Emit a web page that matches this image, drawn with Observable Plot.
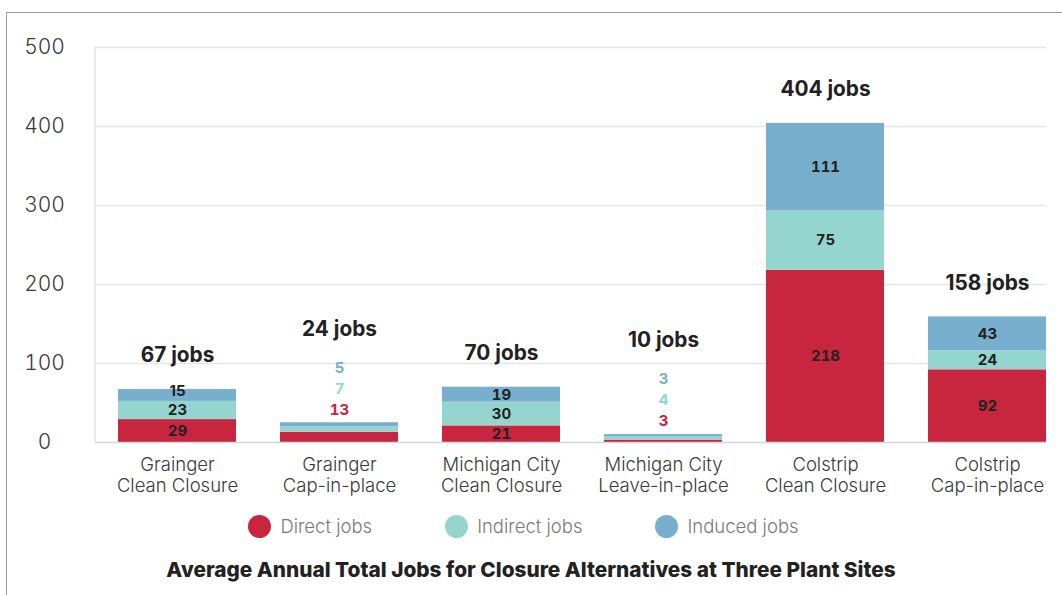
<!DOCTYPE html>
<html><head><meta charset="utf-8">
<script src="https://cdn.jsdelivr.net/npm/d3@7"></script>
<script src="https://cdn.jsdelivr.net/npm/@observablehq/plot@0.6"></script>
<style>
body{margin:0;background:#fff;font-family:Inter,Roboto,"Noto Sans",sans-serif;}
#wrap{position:relative;width:1062px;height:595px;overflow:hidden;}
#frame{position:absolute;left:6px;top:12px;width:1060px;height:600px;border-top:1.5px solid #9a9a9a;border-left:1.5px solid #9a9a9a;pointer-events:none;}
#chart svg{display:block}
#legend{display:flex;justify-content:center;align-items:center;gap:73px;margin-top:14px;height:24px;padding-right:15px;font-size:18.5px;font-weight:300;color:#7a7a7a;}
.item{display:flex;align-items:center;gap:9px}
.dot{width:23px;height:23px;border-radius:50%}
#title{text-align:center;font-weight:800;font-size:20.8px;line-height:22px;margin-top:21px;color:#222}
</style></head>
<body><div id="wrap"><div id="chart"></div><div id="legend"></div><div id="title"></div><div id="frame"></div></div>
<script>
const categories = ["Grainger\nClean Closure", "Grainger\nCap-in-place", "Michigan City\nClean Closure", "Michigan City\nLeave-in-place", "Colstrip\nClean Closure", "Colstrip\nCap-in-place"];
const seriesNames = ["Direct jobs", "Indirect jobs", "Induced jobs"];
const directJobs = [29, 13, 21, 3, 218, 92];
const indirectJobs = [23, 7, 30, 4, 75, 24];
const inducedJobs = [15, 5, 19, 3, 111, 43];
const totalJobs = [67, 24, 70, 10, 404, 158];
const yTicks = [0, 100, 200, 300, 400, 500];
const titleText = "Average Annual Total Jobs for Closure Alternatives at Three Plant Sites";
const seriesColors = ["#c8253e", "#94d5d0", "#79afce"];

const seriesValues = [directJobs, indirectJobs, inducedJobs];
const rows = [];
categories.forEach((c, i) => {
  seriesNames.forEach((s, k) => {
    rows.push({category: c, series: s, value: seriesValues[k][i], total: totalJobs[i], k});
  });
});
const isSmall = d => d.total < 30;
const isTight = d => d.k === 2 && d.value < 16;
const totalRows = categories.map((c, i) => ({category: c, total: totalJobs[i]}));

const font = "Inter, Roboto, 'Noto Sans', sans-serif";

const axisLine = (index, scales, values, dimensions) => {
  return d3.create("svg:line")
    .attr("x1", dimensions.marginLeft).attr("x2", dimensions.marginLeft)
    .attr("y1", scales.y(yTicks[yTicks.length - 1])).attr("y2", scales.y(0))
    .attr("stroke", "#dfe3e4").attr("stroke-width", 1.5).node();
};

const outsideMarks = seriesNames.map((s, k) =>
  Plot.text(rows.filter(d => isSmall(d) && d.series === s), {
    x: "category", y: "total", text: "value", dy: -(13 + 21 * k),
    fill: seriesColors[k], fontWeight: "bold", fontSize: 15
  })
);

const insideOptions = (dy) => Plot.stackY({
  x: "category", y: "value", z: "series", order: seriesNames,
  text: d => d.hide ? "" : d.value, dy,
  fill: "#222", fontWeight: "bold", fontSize: 15
});
const insideRows = rows.filter(d => !isSmall(d));

const chart = Plot.plot({
  width: 1062,
  height: 500,
  marginLeft: 95,
  marginRight: 16,
  marginTop: 47,
  marginBottom: 58,
  style: {fontFamily: font, background: "transparent"},
  x: {domain: categories, paddingInner: 0.274, paddingOuter: 0.0615, align: 1, label: null},
  y: {domain: [0, 500], label: null},
  color: {domain: seriesNames, range: seriesColors},
  marks: [
    Plot.ruleY(yTicks.filter(t => t > 0), {stroke: "#e3e6e7", strokeWidth: 1.5}),
    axisLine,
    Plot.barY(rows, {x: "category", y: "value", fill: "series", order: seriesNames}),
    Plot.ruleY([0], {stroke: "#d3d8da", strokeWidth: 1.5}),
    Plot.text(insideRows.map(d => ({...d, hide: isTight(d)})), insideOptions(0)),
    Plot.text(insideRows.map(d => ({...d, hide: !isTight(d)})), insideOptions(-4)),
    ...outsideMarks,
    Plot.text(totalRows.filter(d => !isSmall(d)), {x: "category", y: "total", text: d => `${d.total} jobs`, dy: -34, fill: "#222", fontWeight: "bold", fontSize: 20.8}),
    Plot.text(totalRows.filter(d => isSmall(d)), {x: "category", y: "total", text: d => `${d.total} jobs`, dy: -94, fill: "#222", fontWeight: "bold", fontSize: 20.8}),
    Plot.axisX({tickSize: 0, tickPadding: 13, fontSize: 18.5, lineHeight: 1.15, fill: "#3a3a3a", fontWeight: 300, label: null}),
    Plot.axisY({ticks: yTicks, tickSize: 0, tickPadding: 51, textAnchor: "middle", fontSize: 21, fill: "#3a3a3a", fontWeight: 300, label: null})
  ]
});
document.getElementById("chart").appendChild(chart);

const legend = document.getElementById("legend");
seriesNames.forEach((s, k) => {
  const item = document.createElement("div");
  item.className = "item";
  const dot = document.createElement("span");
  dot.className = "dot";
  dot.style.background = seriesColors[k];
  const label = document.createElement("span");
  label.textContent = s;
  item.appendChild(dot);
  item.appendChild(label);
  legend.appendChild(item);
});
document.getElementById("title").textContent = titleText;
</script>
</body></html>
